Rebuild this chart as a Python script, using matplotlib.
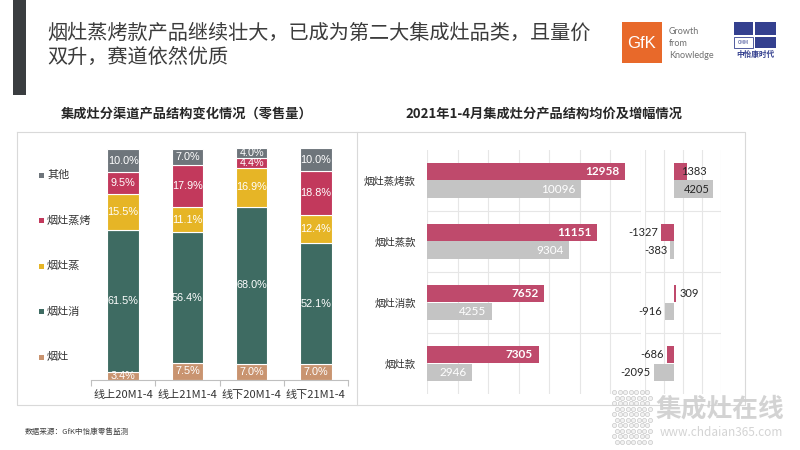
import numpy as np
import matplotlib
matplotlib.use("Agg")
import matplotlib.pyplot as plt
from matplotlib.patches import Rectangle

plt.rcParams['font.family'] = ['Noto Sans CJK SC', 'DejaVu Sans']

# ===================== DATA =====================
# left: channel structure (share of retail volume, %)
channels = ["线上20M1-4", "线上21M1-4", "线下20M1-4", "线下21M1-4"]
seg_names = ["烟灶", "烟灶消", "烟灶蒸", "烟灶蒸烤", "其他"]
share_yanzao = [3.4, 7.5, 7.0, 7.0]
share_xiao = [61.5, 56.4, 68.0, 52.1]
share_zheng = [15.5, 11.1, 16.9, 12.4]
share_zhengkao = [9.5, 17.9, 4.4, 18.8]
share_other = [10.0, 7.0, 4.0, 10.0]

# right: average price and change by product, 2021 Jan-Apr
products = ["烟灶蒸烤款", "烟灶蒸款", "烟灶消款", "烟灶款"]
price_offline = [12958, 11151, 7652, 7305]
price_online = [10096, 9304, 4255, 2946]
chg_offline = [1383, -1327, 309, -686]
chg_online = [4205, -383, -916, -2095]

# ===================== STYLE =====================
seg_colors = ["#c99470", "#3e6b62", "#e6b526", "#c2395c", "#6e757b"]
c_off = "#bf4a6c"
c_on = "#c4c4c4"
grid_c = "#e6e6e6"
W, H = 800, 450


def box(x0, y0, x1, y1):
    return [x0 / W, 1 - y1 / H, (x1 - x0) / W, (y1 - y0) / H]


fig = plt.figure(figsize=(8, 4.5), dpi=100)
fig.patch.set_facecolor("white")

# background layer in pixel coordinates
bg = fig.add_axes([0, 0, 1, 1], zorder=-1)
bg.set_xlim(0, W)
bg.set_ylim(H, 0)
bg.axis("off")

# header
bg.add_patch(Rectangle((13, 0), 13, 95, color="#3a3d40", lw=0))
bg.text(47, 33, "烟灶蒸烤款产品继续壮大，已成为第二大集成灶品类，且量价",
        fontsize=14.5, color="#3c3c3c", va="center", ha="left")
bg.text(47, 57, "双升，赛道依然优质",
        fontsize=14.5, color="#3c3c3c", va="center", ha="left")

# GfK logo
bg.add_patch(Rectangle((622, 22), 40, 41, color="#e8692a", lw=0))
bg.text(642, 44, "GfK", color="white", fontsize=12, ha="center", va="center",
        family=["Liberation Sans"])
for i, w in enumerate(["Growth", "from", "Knowledge"]):
    bg.text(669, 32 + i * 11.5, w, fontsize=6.5, color="#707070",
            va="center", ha="left", family=["Lato"])

# CMM logo
cmm = "#34408f"
bg.add_patch(Rectangle((734, 22), 19, 13, color=cmm, lw=0))
bg.add_patch(Rectangle((755, 22), 21, 13, color=cmm, lw=0))
bg.add_patch(Rectangle((755, 37), 21, 11, color=cmm, lw=0))
bg.add_patch(Rectangle((734, 37), 19, 11, fill=False, ec=cmm, lw=0.6))
bg.text(743.5, 43, "CMM", fontsize=3.5, color=cmm, ha="center", va="center")
bg.text(755, 54, "中怡康时代", fontsize=5.5, color=cmm, ha="center", va="center",
        fontweight="bold")

# panel frames
bg.plot([17, 745, 745, 17, 17], [132, 132, 405, 405, 132], color="#d9d9d9", lw=0.8)
bg.plot([357, 357], [132, 405], color="#d9d9d9", lw=0.8)

bg.text(187, 113, "集成灶分渠道产品结构变化情况（零售量）", fontsize=9.5,
        fontweight="bold", color="#262626", ha="center", va="center")
bg.text(544, 113, "2021年1-4月集成灶分产品结构均价及增幅情况", fontsize=9.5,
        fontweight="bold", color="#262626", ha="center", va="center")

bg.text(25, 432, "数据来源：GfK中怡康零售监测", fontsize=5.5, color="#404040",
        ha="left", va="center")

# left legend (top to bottom: 其他 ... 烟灶)
for i, (name, col) in enumerate(zip(seg_names[::-1], seg_colors[::-1])):
    yy = 175 + i * 45.5
    bg.add_patch(Rectangle((39, yy - 2.5), 5, 5, color=col, lw=0))
    bg.text(47, yy, name, fontsize=8, color="#333333", ha="left", va="center")

# ===================== LEFT: STACKED BARS =====================
ax1 = fig.add_axes(box(91, 149, 348, 380))
x = np.arange(len(channels))
series = [share_yanzao, share_xiao, share_zheng, share_zhengkao, share_other]
bottom = np.zeros(len(channels))
for vals, col in zip(series, seg_colors):
    vals = np.array(vals)
    ax1.bar(x, vals, 0.49, bottom=bottom, color=col, edgecolor="white",
            linewidth=0.8, clip_on=False)
    for xi, b, v in zip(x, bottom, vals):
        ax1.text(xi, b + v / 2, f"{v:.1f}%", ha="center", va="center",
                 color="white", fontsize=7.8, family=["Liberation Sans"])
    bottom += vals

ax1.set_xlim(-0.5, len(channels) - 0.5)
ax1.set_ylim(0, 100)
for s in ["top", "right", "left"]:
    ax1.spines[s].set_visible(False)
ax1.spines["bottom"].set_color("#bfbfbf")
ax1.set_yticks([])
ax1.set_xticks(np.arange(len(channels) + 1) - 0.5)
ax1.set_xticklabels([])
ax1.tick_params(axis="x", length=4, color="#bfbfbf")
ax1.set_xticks(x, minor=True)
ax1.set_xticklabels(channels, minor=True, fontsize=8, color="#333333")
ax1.tick_params(axis="x", which="minor", length=0, pad=7)

# ===================== RIGHT: AVERAGE PRICE =====================
bh = 0.29
y = np.arange(len(products))

ax2 = fig.add_axes(box(427, 150, 641, 394))
ax2.barh(y - bh / 2, price_offline, bh, color=c_off, zorder=2)
ax2.barh(y + bh / 2, price_online, bh, color=c_on, zorder=2)
for yi, v in zip(y, price_offline):
    ax2.annotate(str(v), (v, yi - bh / 2), xytext=(-4, 0), textcoords="offset points",
                 ha="right", va="center", color="white", fontsize=8.5,
                 family=["Lato"], fontweight="bold")
for yi, v in zip(y, price_online):
    ax2.annotate(str(v), (v, yi + bh / 2), xytext=(-4, 0), textcoords="offset points",
                 ha="right", va="center", color="white", fontsize=8.5,
                 family=["Lato"])
ax2.set_xlim(0, 14000)
ax2.set_ylim(len(products) - 0.5, -0.5)
ax2.set_xticks(np.arange(0, 14001, 2000))
ax2.set_xticklabels([])
ax2.set_yticks(y)
ax2.set_yticklabels(products, fontsize=7.5, color="#333333")
ax2.tick_params(length=0, pad=8)
ax2.grid(axis="x", color=grid_c, lw=0.8, zorder=0)
for b in np.arange(len(products) - 1) + 0.5:
    ax2.axhline(b, color=grid_c, lw=0.8, zorder=0)
for s in ax2.spines.values():
    s.set_visible(False)

# legend
bg.add_patch(Rectangle((581, 299.5), 4, 4, color=c_off, lw=0))
bg.text(587, 302, "线下", fontsize=7.5, color="#333333", va="center")
bg.add_patch(Rectangle((613, 299.5), 4, 4, color=c_on, lw=0))
bg.text(619, 302, "线上", fontsize=7.5, color="#333333", va="center")

# ===================== RIGHT: CHANGE =====================
ax3 = fig.add_axes(box(645, 150, 721, 394))
ax3.barh(y - bh / 2, chg_offline, bh, color=c_off, zorder=2)
ax3.barh(y + bh / 2, chg_online, bh, color=c_on, zorder=2)
for vals, off in [(chg_offline, -bh / 2), (chg_online, bh / 2)]:
    for yi, v in zip(y, vals):
        if v > 3000:
            ax3.annotate(str(v), (v, yi + off), xytext=(-3, 0), textcoords="offset points",
                         ha="right", va="center", color="#262626", fontsize=8,
                         family=["Lato"])
        elif v > 0:
            ax3.annotate(str(v), (v, yi + off), xytext=(-4 if v > 1000 else 2, 0),
                         textcoords="offset points", ha="left", va="center",
                         color="#262626", fontsize=8, family=["Lato"])
        else:
            ax3.annotate(str(v), (v, yi + off), xytext=(-2, 0), textcoords="offset points",
                         ha="right", va="center", color="#262626", fontsize=8,
                         family=["Lato"])
ax3.set_xlim(-3000, 5000)
ax3.set_ylim(len(products) - 0.5, -0.5)
ax3.set_xticks(np.arange(-3000, 5001, 2000))
ax3.set_xticklabels([])
ax3.set_yticks([])
ax3.tick_params(length=0)
ax3.grid(axis="x", color=grid_c, lw=0.8, zorder=0)
for b in np.arange(len(products) - 1) + 0.5:
    ax3.axhline(b, color=grid_c, lw=0.8, zorder=0)
for s in ax3.spines.values():
    s.set_visible(False)

# ===================== WATERMARK =====================
wm = fig.add_axes([0, 0, 1, 1], zorder=5)
wm.set_xlim(0, W)
wm.set_ylim(H, 0)
wm.axis("off")
gx, gy = np.meshgrid(np.arange(614, 652, 5.5), np.arange(392, 442, 5.5))
gx = gx + (np.arange(gx.shape[0])[:, None] % 2) * 2.75
wm.scatter(gx.ravel(), gy.ravel(), s=9, facecolor="#f2f2f2", edgecolor="#c8c8c8",
           lw=0.5)
wm.text(656, 409, "集成灶在线", fontsize=18.5, color="#cfcfcf", fontweight="bold",
        ha="left", va="center", alpha=0.9)
wm.text(660, 433, "www.chdaian365.com", fontsize=8.5, color="#cfcfcf",
        ha="left", va="center", alpha=0.9)

fig.savefig("out.png", dpi=100, facecolor="white")
